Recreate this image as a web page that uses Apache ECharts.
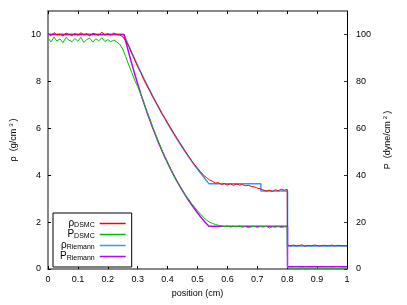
<!DOCTYPE html>
<html><head><meta charset="utf-8">
<script src="https://cdn.jsdelivr.net/npm/echarts@6/dist/echarts.min.js"></script>
<style>html,body{margin:0;padding:0;background:#fff}#c{width:407px;height:305px}</style>
</head><body><div id="c"></div>
<script>
// DSMC sample positions (cm)
const dsmcPositions = [0,0.01,0.02,0.03,0.04,0.05,0.06,0.07,0.08,0.09,0.10,0.11,0.12,0.13,0.14,0.15,0.16,0.17,0.18,0.19,0.20,0.21,0.22,0.23,0.24,
0.25,0.26,0.27,0.28,0.29,0.30,0.31,0.32,0.33,0.34,0.35,0.36,0.37,0.38,0.39,0.40,0.41,0.42,0.43,0.44,0.45,0.46,0.47,0.48,0.49,0.50,
0.51,0.52,0.53,0.54,0.55,0.56,0.57,0.58,0.59,0.60,0.61,0.62,0.63,0.64,0.65,0.66,0.67,0.68,0.69,0.70,0.71,0.72,0.73,0.74,0.75,0.76,0.77,0.78,0.79,0.80,
0.801,0.81,0.82,0.83,0.84,0.85,0.86,0.87,0.88,0.89,0.90,0.91,0.92,0.93,0.94,0.95,0.96,0.97,0.98,0.99,1.00];
// density DSMC (g/cm^3)
const rhoDSMC = [10.05,9.95,10.08,9.98,10.02,9.93,10.06,10.0,9.96,10.04,9.97,10.07,9.99,10.03,9.94,10.05,10.01,9.96,10.1,9.98,10.04,9.97,10.06,10.0,9.98,
9.9,9.72,9.5,9.2,8.92,8.62,8.38,8.08,7.84,7.6,7.35,7.12,6.9,6.64,6.45,6.22,6.02,5.8,5.6,5.4,5.2,5.0,4.82,4.62,4.45,4.3,
4.15,4.0,3.9,3.8,3.74,3.66,3.68,3.6,3.64,3.58,3.63,3.57,3.62,3.58,3.6,3.55,3.57,3.52,3.5,3.45,3.42,3.37,3.32,3.36,3.3,3.38,3.33,3.4,3.36,3.4,
1.03,0.98,1.02,0.99,1.0,1.03,0.97,1.01,0.99,1.02,1.0,0.98,1.01,1.0,0.99,1.02,0.98,1.01,1.0,0.99,1.0];
// pressure DSMC (dyne/cm^2)
const pDSMC = [98.5,96.8,98.9,97.2,98.1,96.5,98.7,97.6,96.9,98.3,97.1,98.8,96.6,97.9,98.4,96.7,98.2,97.3,98.6,97.0,97.8,96.9,97.6,96.8,95.8,
93.8,90.5,87.0,83.8,80.5,77.8,74.6,71.0,67.5,64.2,60.5,57.3,54.2,51.0,48.0,45.4,42.8,40.1,37.9,35.5,33.6,31.5,29.8,27.9,26.4,24.8,
23.4,22.0,20.9,20.0,19.4,19.0,18.6,18.4,18.1,18.3,17.9,18.2,18.0,18.3,17.8,18.1,17.6,18.0,18.2,17.7,18.1,17.9,18.2,17.5,18.0,17.8,18.1,17.7,18.0,17.9,
0.5,0.3,0.4,0.2,0.3,0.5,0.2,0.3,0.4,0.3,0.2,0.4,0.3,0.3,0.2,0.4,0.3,0.2,0.3,0.4,0.3];
// Riemann solution
const rhoRiemannPositions = [0,0.254,0.27,0.29,0.31,0.33,0.35,0.37,0.39,0.41,0.43,0.45,0.47,0.49,0.51,0.525,0.538,0.712,0.712,0.801,0.801,1];
const rhoRiemann = [10,10,9.52,8.95,8.40,7.88,7.37,6.89,6.43,5.99,5.57,5.17,4.79,4.43,4.09,3.85,3.64,3.64,3.33,3.33,0.98,0.98];
const pRiemannPositions = [0,0.254,0.27,0.29,0.31,0.33,0.35,0.37,0.39,0.41,0.43,0.45,0.47,0.49,0.51,0.525,0.538,0.801,0.801,1];
const pRiemann = [100,100,92.2,83.1,74.8,67.2,60.2,53.7,47.9,42.6,37.7,33.3,29.3,25.7,22.3,20.0,18.2,18.2,1,1];

const xTicks = [0,0.1,0.2,0.3,0.4,0.5,0.6,0.7,0.8,0.9,1];
const rhoTicks = [0,2,4,6,8,10];
const pTicks = [0,20,40,60,80,100];

const zip = (xs, ys) => xs.map((x, i) => [x, ys[i]]);
const FONT = 'Liberation Sans';
const labelNames = {
  rhoDSMC: '{m|ρ}{s|DSMC}',
  pDSMC: '{m|P}{s|DSMC}',
  rhoRiemann: '{m|ρ}{s|Riemann}',
  pRiemann: '{m|P}{s|Riemann}'
};
const chart = echarts.init(document.getElementById('c'), null, {renderer: 'canvas'});
const gray = '#888888';
const fmtX = v => (Math.abs(v - Math.round(v)) < 1e-9 ? String(Math.round(v)) : String(Math.round(v * 10) / 10));
const colors = {rhoDSMC: '#ff0000', pDSMC: '#00c000', rhoRiemann: '#3399ff', pRiemann: '#c000ff'};
chart.setOption({
  animation: false,
  backgroundColor: '#fff',
  textStyle: {fontFamily: FONT},
  grid: {left: 47, right: 60, top: 11, bottom: 36, containLabel: false},
  legend: {
    orient: 'vertical', left: 53, top: 213, align: 'right',
    backgroundColor: '#fff', borderColor: '#000', borderWidth: 1, borderRadius: 0,
    padding: [5, 6, 5, 7], itemGap: 0, itemWidth: 26, itemHeight: 1.5, icon: 'rect',
    data: ['rhoDSMC', 'pDSMC', 'rhoRiemann', 'pRiemann'],
    formatter: n => labelNames[n],
    textStyle: {
      width: 37, align: 'right', fontFamily: FONT, color: '#000',
      rich: {
        m: {fontSize: 10, lineHeight: 11, verticalAlign: 'top', fontFamily: FONT, color: '#000'},
        s: {fontSize: 7, lineHeight: 7, verticalAlign: 'bottom', fontFamily: FONT, color: '#000'}
      }
    }
  },
  xAxis: [{
    type: 'value', min: 0, max: 1, interval: 0.1, position: 'bottom',
    name: 'position (cm)', nameLocation: 'middle', nameGap: 19,
    nameTextStyle: {fontSize: 9, color: '#000', fontFamily: FONT},
    axisLine: {show: true, onZero: false, lineStyle: {color: gray, width: 2}},
    axisTick: {show: true, inside: true, length: 3, lineStyle: {color: '#000'}},
    axisLabel: {fontSize: 9, color: '#000', margin: 6, formatter: fmtX},
    splitLine: {show: false}
  }, {
    type: 'value', min: 0, max: 1, interval: 0.1, position: 'top',
    axisLine: {show: true, onZero: false, lineStyle: {color: gray, width: 2}},
    axisTick: {show: true, inside: true, length: 3, lineStyle: {color: '#000'}},
    axisLabel: {show: false}, splitLine: {show: false}
  }],
  yAxis: [{
    type: 'value', min: 0, max: 11, interval: 2, position: 'left',
    name: '{a|ρ  (g/cm}{u|3}{a|)}', nameLocation: 'middle', nameGap: 28, nameRotate: 90,
    nameTextStyle: {rich: {a: {fontSize: 9, color: '#000', fontFamily: FONT}, u: {fontSize: 6, color: '#000', fontFamily: FONT, padding: [0, 2, 6, 2]}}},
    axisLine: {show: true, onZero: false, lineStyle: {color: gray, width: 2}},
    axisTick: {show: true, inside: true, length: 3, lineStyle: {color: '#000'}},
    axisLabel: {fontSize: 9, color: '#000', margin: 7, showMaxLabel: false},
    splitLine: {show: false}
  }, {
    type: 'value', min: 0, max: 110, interval: 20, position: 'right',
    name: '{a|P  (dyne/cm}{u|2}{a|)}', nameLocation: 'middle', nameGap: 29, nameRotate: 90,
    nameTextStyle: {rich: {a: {fontSize: 9, color: '#000', fontFamily: FONT}, u: {fontSize: 6, color: '#000', fontFamily: FONT, padding: [0, 2, 6, 2]}}},
    axisLine: {show: true, onZero: false, lineStyle: {color: '#000', width: 1}},
    axisTick: {show: true, inside: true, length: 3, lineStyle: {color: '#333'}},
    axisLabel: {fontSize: 9, color: '#000', margin: 9, showMaxLabel: false},
    splitLine: {show: false}
  }],
  series: [
    {name: 'rhoRiemann', type: 'line', yAxisIndex: 0, z: 2, data: zip(rhoRiemannPositions, rhoRiemann), symbol: 'none', lineStyle: {color: colors.rhoRiemann, width: 1.5}, itemStyle: {color: colors.rhoRiemann}},
    {name: 'pRiemann', type: 'line', yAxisIndex: 1, z: 2, data: zip(pRiemannPositions, pRiemann), symbol: 'none', lineStyle: {color: colors.pRiemann, width: 1.5}, itemStyle: {color: colors.pRiemann}},
    {name: 'rhoDSMC', type: 'line', yAxisIndex: 0, z: 3, data: zip(dsmcPositions, rhoDSMC), symbol: 'none', lineStyle: {color: colors.rhoDSMC, width: 1}, itemStyle: {color: colors.rhoDSMC}},
    {name: 'pDSMC', type: 'line', yAxisIndex: 1, z: 3, data: zip(dsmcPositions, pDSMC), symbol: 'none', lineStyle: {color: colors.pDSMC, width: 1}, itemStyle: {color: colors.pDSMC}}
  ]
});
</script></body></html>
